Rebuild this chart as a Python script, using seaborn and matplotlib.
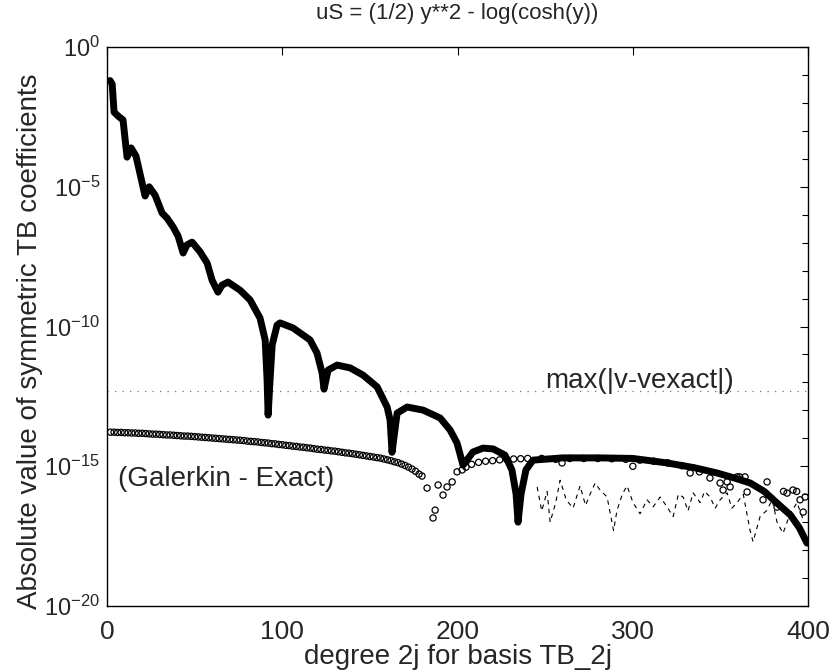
import numpy as np
import pandas as pd
import matplotlib
matplotlib.use("Agg")
import matplotlib.pyplot as plt
import seaborn as sns
from matplotlib.ticker import LogLocator, NullFormatter, FixedLocator

# thick curve: |coefficient| (degree, log10 value)
coef_deg = [1.7, 2.9, 4.0, 6.3, 9.1, 11.4, 13.7, 16.5, 21.7, 24.0, 27.4, 31.4, 34.2, 37.7,
            40.5, 43.4, 45.6, 48.5, 53.1, 57.1, 59.9, 63.3, 65.6, 69.0, 75.9, 81.6, 87.3,
            90.2, 91.3, 91.9, 93.0, 94.2, 97.0, 98.7, 106.1, 115.8, 119.8, 122.7, 123.8,
            126.1, 131.2, 138.7, 146.1, 154.1, 159.8, 161.5, 162.6, 165.5, 171.2, 180.3,
            190.0, 195.7, 199.7, 203.1, 208.8, 214.5, 220.3, 227.0, 231.0, 233.4, 234.5,
            236.2, 239.0, 243.0, 260.0, 281.0, 300.0, 319.5, 335.0, 348.0, 358.0, 367.0,
            375.0, 382.0, 390.0, 395.0, 399.4]
coef_log = [-1.2, -1.32, -2.33, -2.47, -2.61, -3.94, -3.61, -3.9, -5.33, -5.0, -5.3, -5.94,
            -6.12, -6.44, -6.76, -7.37, -7.08, -6.98, -7.33, -7.73, -8.34, -8.77, -8.52,
            -8.41, -8.7, -9.05, -9.7, -10.48, -11.9, -13.17, -11.9, -10.66, -9.95, -9.87,
            -10.05, -10.48, -10.95, -11.66, -12.24, -11.56, -11.38, -11.48, -11.74, -12.16,
            -12.88, -13.35, -14.5, -13.1, -12.88, -12.99, -13.27, -13.7, -14.17, -14.96,
            -14.49, -14.35, -14.38, -14.6, -15.13, -16.0, -17.0, -16.0, -15.13, -14.78,
            -14.7, -14.7, -14.72, -14.88, -15.05, -15.24, -15.42, -15.6, -15.9, -16.3,
            -16.75, -17.2, -17.75]

# circles: Galerkin - Exact, smooth part (every 2nd degree)
gal_deg_a = list(range(2, 180, 2))
gal_log_a = [-13.78, -13.78, -13.79, -13.79, -13.80, -13.80, -13.81, -13.81, -13.82, -13.82,
             -13.83, -13.84, -13.85, -13.85, -13.86, -13.87, -13.88, -13.88, -13.89, -13.90,
             -13.91, -13.92, -13.92, -13.93, -13.94, -13.95, -13.96, -13.97, -13.98, -13.99,
             -14.00, -14.01, -14.02, -14.03, -14.04, -14.05, -14.06, -14.07, -14.08, -14.10,
             -14.11, -14.12, -14.13, -14.15, -14.16, -14.17, -14.19, -14.20, -14.22, -14.23,
             -14.25, -14.26, -14.28, -14.29, -14.31, -14.32, -14.34, -14.35, -14.37, -14.39,
             -14.40, -14.42, -14.43, -14.45, -14.46, -14.48, -14.50, -14.52, -14.53, -14.55,
             -14.57, -14.59, -14.61, -14.63, -14.65, -14.67, -14.69, -14.71, -14.74, -14.77,
             -14.80, -14.84, -14.87, -14.92, -14.97, -15.03, -15.10, -15.18, -15.28]
# circles: scattered part
gal_deg_b = [179.7, 182.6, 186.0, 187.2, 188.9, 191.7, 194.0, 196.9, 199.7, 202.6, 204.8,
             208, 212, 216, 220, 224, 228, 232, 236, 240, 248, 256, 259.6, 264, 272, 280,
             288, 296, 300, 304, 312, 320, 328, 332.7, 338, 344, 349.8, 351.5, 353.8, 355.5,
             359.5, 361, 364, 365.2, 374.3, 376.6, 382.3, 386, 388, 391.4, 393.5, 395.4,
             397.2, 398.3]
gal_log_b = [-15.35, -15.78, -16.85, -16.57, -15.67, -16.03, -15.74, -15.56, -15.2, -15.13,
             -15.03, -14.93, -14.86, -14.82, -14.8, -14.77, -14.75, -14.74, -14.73, -14.72,
             -14.72, -14.75, -14.88, -14.72, -14.72, -14.72, -14.73, -14.75, -15.0, -14.78,
             -14.82, -14.88, -14.98, -15.24, -15.2, -15.42, -15.6, -15.85, -15.56, -15.74,
             -15.38, -15.38, -15.38, -15.92, -16.2, -15.56, -16.46, -15.9, -15.96, -15.85,
             -15.9, -16.2, -16.64, -16.1]

# dashed: noise level
noise_deg = [245.4, 248.0, 251.1, 252.8, 256.0, 258.5, 262.0, 265.9, 269.9, 273.0, 275.6,
             278.5, 281.3, 285.3, 289.0, 291.0, 294.0, 296.7, 300.1, 304.1, 308.1, 311.6,
             315.6, 319.5, 323.0, 326.0, 328.7, 331.5, 334.4, 338.4, 341.0, 344.1, 347.0,
             349.8, 353.8, 356.5, 359.5, 363.0, 366.9, 368.6, 372.6, 376.6, 379.5, 382.3,
             385.7, 389.7, 393.7, 397.1]
noise_log = [-15.74, -16.6, -15.9, -17.0, -16.3, -15.5, -16.2, -16.5, -15.7, -16.4, -16.0,
             -15.6, -15.85, -16.1, -17.3, -16.57, -16.0, -15.7, -16.3, -16.7, -16.2, -16.45,
             -16.1, -16.45, -16.8, -16.0, -16.1, -16.6, -15.95, -16.3, -15.9, -16.1, -16.5,
             -16.2, -15.95, -16.5, -16.3, -16.0, -17.3, -17.7, -16.8, -16.57, -16.2, -17.0,
             -17.4, -16.7, -16.3, -16.9]

max_err_log = -12.3

coef = pd.DataFrame({"deg": coef_deg, "val": 10.0 ** np.array(coef_log)})
gal = pd.DataFrame({"deg": gal_deg_a + gal_deg_b,
                    "val": 10.0 ** np.array(gal_log_a + gal_log_b)})
noise = pd.DataFrame({"deg": noise_deg, "val": 10.0 ** np.array(noise_log)})

sns.set_style("white")
plt.rcParams["font.family"] = ["Liberation Sans", "DejaVu Sans"]
plt.rcParams["mathtext.fontset"] = "custom"
plt.rcParams["mathtext.rm"] = "Liberation Sans"
plt.rcParams["mathtext.default"] = "regular"

fig = plt.figure(figsize=(8.3, 6.7), dpi=100)
ax = fig.add_axes([0.129, 0.0955, 0.8446, 0.8343])

ax.axhline(10.0 ** max_err_log, color="0.45", lw=0.9, ls=(0, (1, 5)), zorder=1)
sns.lineplot(data=noise, x="deg", y="val", ax=ax, color="black", lw=0.8,
             linestyle=(0, (4, 4)), sort=False, estimator=None, zorder=2)
sns.scatterplot(data=gal, x="deg", y="val", ax=ax, marker="o", s=20,
                facecolor="none", edgecolor="black", linewidth=0.9, zorder=3)
sns.lineplot(data=coef, x="deg", y="val", ax=ax, color="black", lw=5,
             sort=False, estimator=None, zorder=4)

ax.set_yscale("log")
ax.set_xlim(0, 400)
ax.set_ylim(1e-20, 1e0)
ax.yaxis.set_major_locator(FixedLocator([1e-20, 1e-15, 1e-10, 1e-5, 1e0]))
ax.yaxis.set_minor_locator(LogLocator(base=10, subs=(1.0,), numticks=30))
ax.yaxis.set_minor_formatter(NullFormatter())
ax.set_xticks([0, 100, 200, 300, 400])
ax.tick_params(axis="both", which="both", direction="in", top=True, right=True,
               width=0.8, color="black")
ax.tick_params(axis="x", pad=10, labelsize=19)
ax.tick_params(axis="y", pad=5, labelsize=17)
ax.tick_params(which="major", length=6)
ax.tick_params(which="minor", length=4)
for s in ax.spines.values():
    s.set_color("black")
    s.set_linewidth(1.0)

ax.set_xlabel("degree 2j for basis TB_2j", fontsize=20, labelpad=0)
ax.set_ylabel("Absolute value of symmetric TB coefficients", fontsize=20)
ax.yaxis.set_label_coords(-0.092, 0.473)
fig.text(0.551, 1 - 14 / 670, "uS = (1/2) y**2 - log(cosh(y))", fontsize=16,
         ha="center", va="center")

ax.text(250, 10.0 ** -11.95, "max(|v-vexact|)", fontsize=20, va="center", ha="left")
ax.text(6, 10.0 ** -15.45, "(Galerkin - Exact)", fontsize=20, va="center", ha="left")

fig.savefig("out.png", dpi=100)
